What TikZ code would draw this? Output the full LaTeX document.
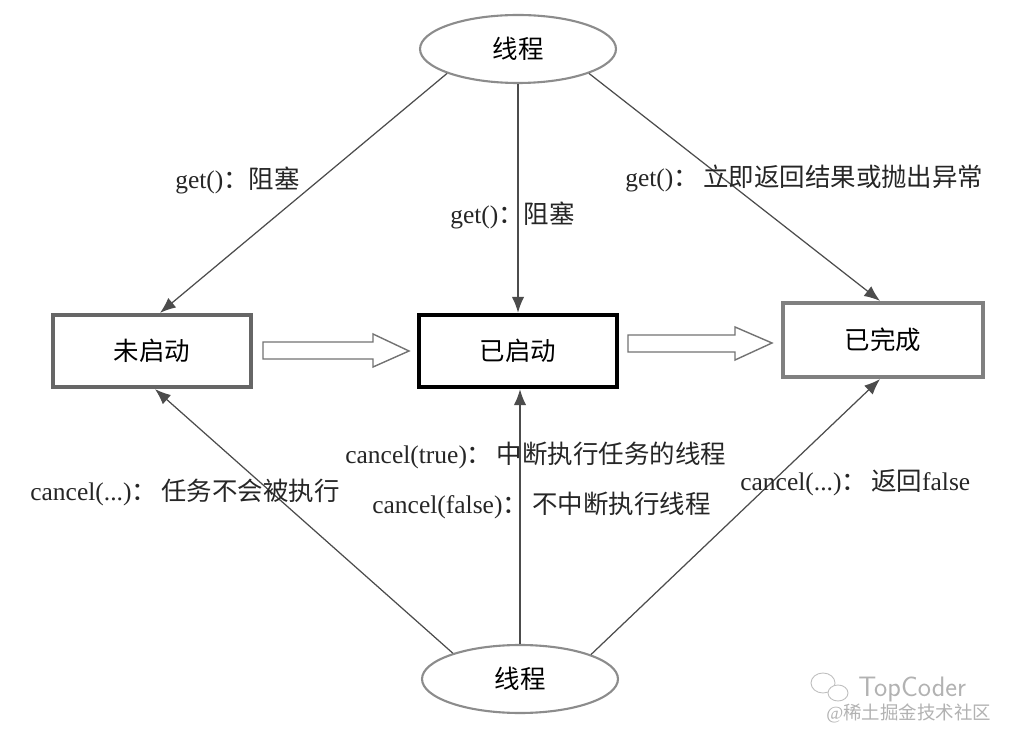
\documentclass[tikz,border=0pt]{standalone}
\usepackage{fontspec}
\setmainfont{Liberation Serif}
\newfontfamily\cjk{Noto Sans CJK SC}
\usetikzlibrary{shapes.geometric,arrows.meta}
\begin{document}
\begin{tikzpicture}[x=0.02cm,y=-0.02cm,
  every node/.style={font=\fontsize{14.5pt}{16pt}\selectfont, inner sep=0pt},
  thread/.style={ellipse, draw=black!45, line width=1.2pt, minimum width=3.92cm, minimum height=1.36cm, fill=white},
  statebox/.style={rectangle, draw=black!60, line width=2.4pt, minimum width=3.96cm, minimum height=1.44cm, fill=white},
  conn/.style={draw=black!70, line width=0.7pt, -{Latex[length=9pt,width=7pt]}},
  hollow/.style={draw=black!55, line width=0.8pt, fill=white},
  lbl/.style={anchor=west, text=black!85}
]
\useasboundingbox (0,0) rectangle (1010,742);
\fill[white] (0,0) rectangle (1010,742);

% nodes
\node[thread] (T) at (518,49) {\cjk 线程};
\node[thread] (B) at (520,679) {\cjk 线程};
\node[statebox] (L) at (152,351) {\cjk 未启动};
\node[statebox, draw=black, line width=2.6pt] (M) at (518,351) {\cjk 已启动};
\node[statebox, draw=black!50, minimum width=4.0cm, minimum height=1.48cm] (R) at (883,340) {\cjk 已完成};

% connectors from top thread
\draw[conn] (T.199) -- ([xshift=0.16cm]L.north);
\draw[conn] (T.south) -- (M.north);
\draw[conn] (T.341) -- ([xshift=-0.06cm]R.north);

% connectors from bottom thread
\draw[conn] (B.159) -- ([xshift=0.06cm]L.south);
\draw[conn] (B.north) -- (B.north |- M.south);
\draw[conn] (B.19) -- ([xshift=-0.06cm]R.south);

% hollow transition arrows
\draw[hollow] (263,342) -- (373,342) -- (373,334) -- (409,351) -- (373,367) -- (373,359) -- (263,359) -- cycle;
\draw[hollow] (628,335) -- (735,335) -- (735,327) -- (772,343) -- (735,360) -- (735,352) -- (628,352) -- cycle;

% labels
\node[lbl] (g1) at (175,180) {get(){\cjk ：阻塞}};
\node[lbl] (g2) at (450,215) {get(){\cjk ：阻塞}};
\node[lbl] (g3) at (625,178) {get(){\cjk ：\,立即返回结果或抛出异常}};
\node[lbl] (c1) at (345,455) {cancel(true){\cjk ：\,中断执行任务的线程}};
\node[lbl] (c2) at (372,505) {cancel(false){\cjk ：\,不中断执行线程}};
\node[lbl] (c3) at (30,492) {cancel(...){\cjk ：\,任务不会被执行}};
\node[lbl] (c4) at (740,483) {cancel(...){\cjk ：\,返回}false};

% watermark
\draw[black!25, line width=0.5pt] (823,683) ellipse (12 and 10);
\draw[black!25, line width=0.5pt, fill=white] (838,693) ellipse (10 and 8);
\node[anchor=west, text=black!30, font=\sffamily\fontsize{16pt}{17pt}\selectfont] (wm1) at (858,689) {TopCoder};
\node[anchor=west, text=black!30, font=\fontsize{10.5pt}{11pt}\selectfont] (wm2) at (826,713) {@{\cjk 稀土掘金技术社区}};
\end{tikzpicture}
\end{document}
